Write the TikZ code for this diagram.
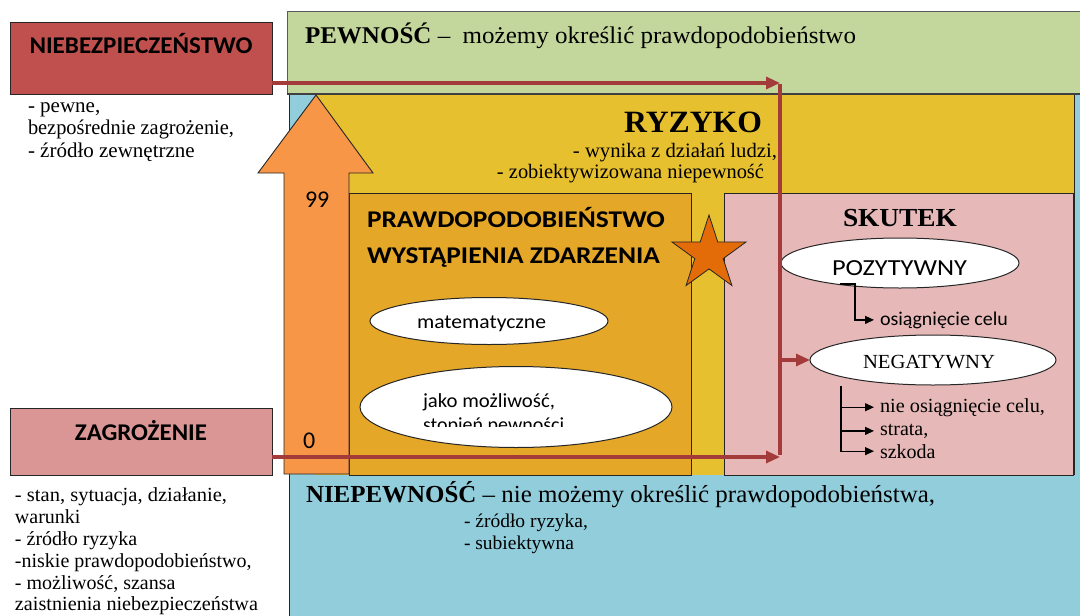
\documentclass[tikz,border=0pt]{standalone}
\usepackage{graphicx}
\usepackage{fontspec}
\setmainfont{Liberation Serif}
\newfontfamily\calib{Carlito}
\usetikzlibrary{arrows.meta,shapes.geometric}

\definecolor{greenband}{HTML}{C3D69B}
\definecolor{blueband}{HTML}{92CDDC}
\definecolor{riskyellow}{HTML}{E7C02F}
\definecolor{probamber}{HTML}{E4A727}
\definecolor{uparrow}{HTML}{F79646}
\definecolor{effectpink}{HTML}{E6B9B8}
\definecolor{dangerred}{HTML}{C0504D}
\definecolor{threatpink}{HTML}{D99694}
\definecolor{linkred}{HTML}{A33B3B}
\definecolor{starorange}{HTML}{E36C09}
\definecolor{outline}{HTML}{262626}

% font size helper and horizontal fit of a text to a given width
\newcommand\fsz[1]{\fontsize{#1}{#1}\selectfont}
\newsavebox\txtbox
\newcommand\fitx[2]{\sbox\txtbox{#2}\resizebox{#1}{\ht\txtbox}{\usebox\txtbox}}

\begin{document}
\begin{tikzpicture}[x=1pt,y=-1pt,
  lbl/.style={inner sep=0pt, outer sep=0pt},
  boxline/.style={draw=outline, line width=0.9pt},
  plainbox/.style={boxline, inner sep=0pt, outer sep=0pt, anchor=north west},
  link/.style={draw=linkred, line width=3.2pt},
  linkarrow/.style={link, -{Triangle[length=14pt,width=12pt]}},
  branch/.style={draw=black, line width=1.3pt},
  brancharrow/.style={branch, -{Triangle[length=9pt,width=8pt]}},
  oval/.style={ellipse, draw=outline, line width=1pt, fill=white, inner sep=0pt, outer sep=0pt}
]
\useasboundingbox (0,0) rectangle (1080,616);
\fill[white] (0,0) rectangle (1080,616);

% uncertainty field (blue) and certainty band (green)
\fill[blueband] (289,94) rectangle (1082,618);
\draw[outline, line width=0.9pt] (289,94) -- (289,618);
\fill[greenband] (287,11) rectangle (1082,94);
\draw[gray!70!black, line width=0.9pt] (1082,11) -- (287,11) -- (287,94);
\draw[gray!50!black, line width=1.2pt] (287,94) -- (1082,94);

% risk field
\fill[riskyellow] (316,95) rectangle (1074,475);
\draw[outline, line width=0.9pt] (1074,95) -- (1074,475);

% probability box and effect box
\node[plainbox, fill=probamber, minimum width=342pt, minimum height=282pt] (probbox) at (349,193) {};
\node[plainbox, fill=effectpink, minimum width=349pt, minimum height=282pt] (effbox) at (724,193) {};

% scale arrow 0..99
\draw[boxline, fill=uparrow] (284,474) -- (284,173) -- (258,173) -- (316,95)
  -- (373,173) -- (349,173) -- (349,474) -- cycle;

% left boxes
\node[plainbox, fill=dangerred, minimum width=262pt, minimum height=72pt] (niebez) at (10,22) {};
\node[plainbox, fill=threatpink, minimum width=262pt, minimum height=67pt] (zagroz) at (10,408) {};

% ovals
\node[oval, minimum width=238pt, minimum height=47pt] (matov) at (489,321) {};
\node[oval, minimum width=312pt, minimum height=81pt] (jakoov) at (516,407) {};
\node[oval, minimum width=238pt, minimum height=50pt] (pozov) at (900,263) {};
\node[oval, minimum width=246pt, minimum height=50pt] (negov) at (933,360) {};

% star
\node[star, star points=5, star point ratio=2.618, minimum size=78pt, inner sep=0pt,
  fill=starorange, draw=outline, line width=0.8pt] (star) at (709,254) {};

% ---- texts ----
\node[lbl, anchor=base] (niebezT) at (141,53) {\calib\bfseries\fsz{24}\fitx{223pt}{NIEBEZPIECZEŃSTWO}};
\node[lbl, anchor=base] (zagrozT) at (141,440) {\calib\bfseries\fsz{24}\fitx{132pt}{ZAGROŻENIE}};

\node[lbl, anchor=base west] (nb1) at (28,112) {\fsz{21}- pewne,};
\node[lbl, anchor=base west] (nb2) at (28,134) {\fsz{21}\fitx{206pt}{bezpośrednie zagrożenie,}};
\node[lbl, anchor=base west] (nb3) at (28,157) {\fsz{21}- źródło zewnętrzne};

\node[lbl, anchor=base west] (zg1) at (15,501) {\fsz{20}\fitx{212pt}{- stan, sytuacja, działanie,}};
\node[lbl, anchor=base west] (zg2) at (15,523) {\fsz{20}warunki};
\node[lbl, anchor=base west] (zg3) at (15,545) {\fsz{20}- źródło ryzyka};
\node[lbl, anchor=base west] (zg4) at (15,567) {\fsz{20}-niskie prawdopodobieństwo,};
\node[lbl, anchor=base west] (zg5) at (15,589) {\fsz{20}- możliwość, szansa};
\node[lbl, anchor=base west] (zg6) at (15,610) {\fsz{20}\fitx{243pt}{zaistnienia niebezpieczeństwa}};

\node[lbl, anchor=base west] (pewT) at (305,43) {\fsz{24}\fitx{551pt}{\textbf{PEWNOŚĆ} –\ \ możemy określić prawdopodobieństwo}};

\node[lbl, anchor=base east] (ryzT) at (762,132) {\fsz{31}\bfseries\fitx{138pt}{RYZYKO}};
\node[lbl, anchor=base east] (ryz1) at (777,157) {\fsz{20.5}\fitx{204pt}{- wynika z działań ludzi,}};
\node[lbl, anchor=base east] (ryz2) at (764,178) {\fsz{20.5}\fitx{267pt}{- zobiektywizowana niepewność}};

\node[lbl, anchor=base west] (top99) at (305,207) {\calib\fsz{24}99};
\node[lbl, anchor=base west] (bot0) at (303,448) {\calib\fsz{24}0};

\node[lbl, anchor=base west] (prob1) at (367,227) {\calib\bfseries\fsz{24}\fitx{298pt}{PRAWDOPODOBIEŃSTWO}};
\node[lbl, anchor=base west] (prob2) at (367,263) {\calib\bfseries\fsz{24}\fitx{293pt}{WYSTĄPIENIA ZDARZENIA}};

\node[lbl, anchor=base west] (matT) at (417,328) {\calib\fsz{20}\fitx{129pt}{matematyczne}};
\begin{scope}
  \clip (360,360) rectangle (680,426);
  \node[lbl, anchor=base west] (jako1) at (423,407) {\calib\fsz{20}\fitx{132pt}{jako możliwość,}};
  \node[lbl, anchor=base west] (jako2) at (423,431) {\calib\fsz{20}stopień pewności};
\end{scope}

\node[lbl, anchor=base] (skutT) at (900,226) {\fsz{26}\bfseries\fitx{114pt}{SKUTEK}};
\node[lbl, anchor=base] (pozT) at (899.5,275) {\calib\fsz{23}\fitx{135pt}{POZYTYWNY}};
\node[lbl, anchor=base west] (osiT) at (880,325) {\calib\fsz{19.5}\fitx{128pt}{osiągnięcie celu}};
\node[lbl, anchor=base] (negT) at (929,368) {\fsz{20}\fitx{132pt}{NEGATYWNY}};
\node[lbl, anchor=base west] (neg1) at (880,412) {\fsz{20}\fitx{165pt}{nie osiągnięcie celu,}};
\node[lbl, anchor=base west] (neg2) at (880,435) {\fsz{20}strata,};
\node[lbl, anchor=base west] (neg3) at (880,458) {\fsz{20}szkoda};

\node[lbl, anchor=base west] (niepT) at (306,502) {\fsz{24.5}\fitx{629pt}{\textbf{NIEPEWNOŚĆ} – nie możemy określić prawdopodobieństwa,}};
\node[lbl, anchor=base west] (niep1) at (464,527) {\fsz{19.5}- źródło ryzyka,};
\node[lbl, anchor=base west] (niep2) at (464,549) {\fsz{19.5}- subiektywna};

% ---- black branch arrows in the effect box ----
\coordinate (pzfoot) at (840,284);
\draw[brancharrow] (pzfoot) -- ++(15,0) |- ([xshift=-6pt]osiT.west);
\coordinate (ngfoot) at (841,386);
\draw[brancharrow] (ngfoot) |- ([xshift=-6pt]neg3.west);
\draw[brancharrow] (ngfoot |- neg1.west) -- ([xshift=-6pt]neg1.west);
\draw[brancharrow] (ngfoot |- neg2.west) -- ([xshift=-6pt]neg2.west);

% ---- red links ----
\coordinate (jtop) at (780,83);
\coordinate (jbot) at (780,457);
\draw[link] ([yshift=-1pt]jtop) -- ([yshift=1.6pt]jbot);
\draw[linkarrow] (niebez.east |- jtop) -- (jtop);
\draw[linkarrow] (zagroz.east |- jbot) -- (jbot);
\draw[linkarrow] (jtop |- negov.west) -- (negov.west);
\end{tikzpicture}
\end{document}
